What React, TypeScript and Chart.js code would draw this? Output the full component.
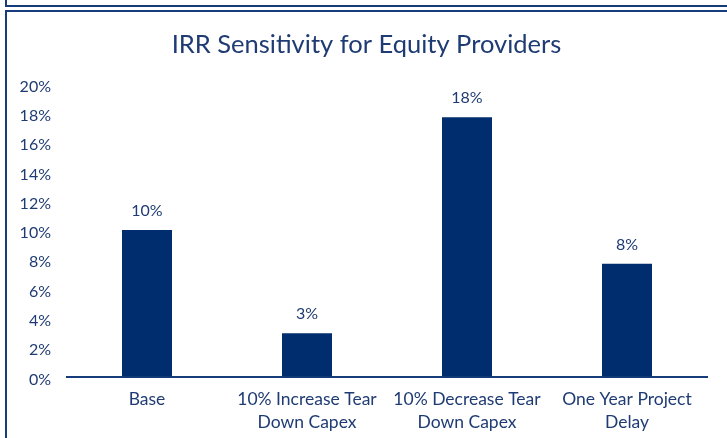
import React, { useEffect, useRef } from "react";
import { Chart, registerables } from "chart.js";

Chart.register(...registerables);

const categories: string[][] = [
  ["Base"],
  ["10% Increase Tear", "Down Capex"],
  ["10% Decrease Tear", "Down Capex"],
  ["One Year Project", "Delay"],
];
const irrValues: number[] = [10.0, 2.95, 17.7, 7.7];
const yTicksMin = 0;
const yTicksMax = 20;
const yTickStep = 2;
const chartTitle = "IRR Sensitivity for Equity Providers";

const BAR = "#002D6E";
const TEXT = "#1F3B73";
const BORDER = "#173C7A";
const FONT = "Lato, 'Open Sans', sans-serif";

const labelPlugin = {
  id: "barValueLabels",
  afterDatasetsDraw(chart: any) {
    const ctx = chart.ctx;
    const meta = chart.getDatasetMeta(0);
    ctx.save();
    ctx.font = `16px ${FONT}`;
    ctx.fillStyle = TEXT;
    ctx.textAlign = "center";
    ctx.textBaseline = "middle";
    meta.data.forEach((el: any, i: number) => {
      const v = chart.data.datasets[0].data[i] as number;
      ctx.fillText(`${Math.round(v)}%`, el.x, el.y - 19);
    });
    ctx.restore();
  },
};

const titlePlugin = {
  id: "centeredTitle",
  afterDraw(chart: any) {
    const ctx = chart.ctx;
    ctx.save();
    ctx.font = `25.5px ${FONT}`;
    ctx.fillStyle = TEXT;
    ctx.textAlign = "center";
    ctx.textBaseline = "middle";
    ctx.fillText(chartTitle, chart.width / 2 + 3, 45);
    ctx.restore();
  },
};

export default function App() {
  const ref = useRef<HTMLCanvasElement | null>(null);
  useEffect(() => {
    if (!ref.current) return;
    const chart = new Chart(ref.current, {
      type: "bar",
      data: {
        labels: categories,
        datasets: [
          {
            data: irrValues,
            backgroundColor: BAR,
            barPercentage: 0.3125,
            categoryPercentage: 1,
          },
        ],
      },
      options: {
        animation: false,
        responsive: false,
        maintainAspectRatio: false,
        layout: { padding: { top: 83.5, right: 20, left: 0, bottom: 0 } },
        plugins: {
          legend: { display: false },
          tooltip: { enabled: false },
          title: { display: false },
        },
        scales: {
          x: {
            grid: { display: false, drawTicks: false },
            border: { display: true, color: BORDER, width: 2 },
            ticks: {
              color: TEXT,
              font: { family: FONT, size: 17.5, lineHeight: 1.29 },
              padding: 12,
              maxRotation: 0,
              autoSkip: false,
            },
            afterFit: (scale: any) => {
              scale.height = 61.5;
            },
          },
          y: {
            min: yTicksMin,
            max: yTicksMax,
            grid: { display: false, drawTicks: false },
            border: { display: false },
            ticks: {
              stepSize: yTickStep,
              color: TEXT,
              font: { family: FONT, size: 16 },
              padding: 16,
              labelOffset: 3,
              callback: (v: any) => `${v}%`,
            },
            afterFit: (scale: any) => {
              scale.width = 67;
            },
          },
        },
      },
      plugins: [labelPlugin, titlePlugin],
    });
    return () => chart.destroy();
  }, []);

  return (
    <div
      style={{
        position: "fixed",
        left: 0,
        top: 0,
        width: 727,
        height: 438,
        background: "#fff",
        overflow: "hidden",
      }}
    >
      <div style={{ position: "absolute", left: 5, top: 5, width: 722, height: 2, background: BORDER }} />
      <div style={{ position: "absolute", left: 5, top: 0, width: 2, height: 7, background: BORDER }} />
      <div style={{ position: "absolute", left: 5, top: 10, width: 722, height: 2, background: BORDER }} />
      <div style={{ position: "absolute", left: 5, top: 10, width: 2, height: 428, background: BORDER }} />
      <canvas
        ref={ref}
        width={727}
        height={438}
        style={{ position: "absolute", left: 0, top: 0, width: 727, height: 438 }}
      />
    </div>
  );
}
